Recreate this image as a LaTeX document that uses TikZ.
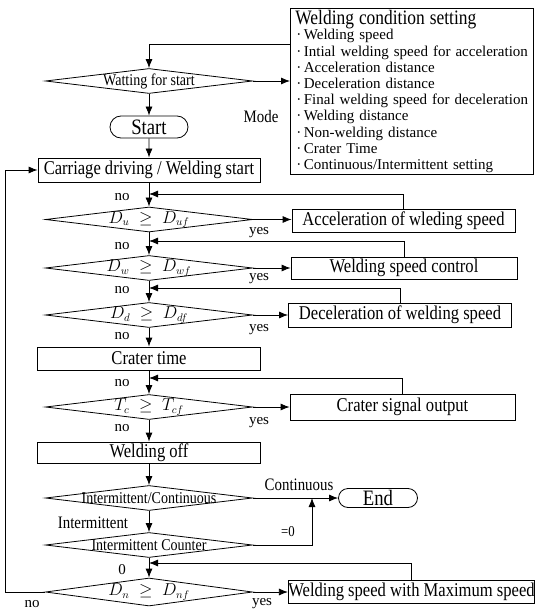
\documentclass[tikz,border=0pt]{standalone}
\usepackage{fontspec}
\setmainfont{Liberation Serif}
\newfontfamily\condfont{Liberation Serif}[FakeStretch=0.85]
\usetikzlibrary{shapes.geometric,shapes.misc,arrows.meta}

\tikzset{
  flow/.style={line width=0.8pt},
  arr/.style={flow, -{Latex[length=9pt,width=7pt]}},
  procbox/.style={draw, flow, minimum width=223pt, minimum height=23pt, inner sep=0pt,
    font=\condfont\fontsize{19.5}{20}\selectfont},
  decide/.style={draw, flow, diamond, minimum width=207pt, minimum height=25pt, inner sep=0pt},
  term/.style={draw, flow, rounded rectangle, minimum width=78pt, minimum height=22pt, inner sep=0pt,
    font=\condfont\fontsize{22}{22}\selectfont},
  dtext/.style={font=\condfont\fontsize{16.5}{17}\selectfont, inner sep=0pt},
  mtext/.style={font=\fontsize{16}{17}\selectfont, inner sep=0pt},
  yn/.style={font=\fontsize{15}{15}\selectfont, inner sep=0pt},
  side/.style={font=\condfont\fontsize{17.5}{18}\selectfont, inner sep=0pt},
}

\begin{document}
\begin{tikzpicture}[x=1pt, y=-1pt]
  \useasboundingbox (0,0) rectangle (535,612);

  % setting box
  \node[draw, flow, anchor=north west, text width=233pt, align=left, inner xsep=5pt, inner ysep=2pt,
        font=\fontsize{15}{16.2}\selectfont] (set) at (290,8)
    {\hyphenpenalty=10000\relax
     {\condfont\fontsize{20.5}{20}\selectfont Welding condition setting}\\[-1pt]
     \hspace*{1pt}·\,Welding speed\\
     \hspace*{1pt}·\,Intial welding speed for acceleration\\
     \hspace*{1pt}·\,Acceleration distance\\
     \hspace*{1pt}·\,Deceleration distance\\
     \hspace*{1pt}·\,Final welding speed for deceleration\\
     \hspace*{1pt}·\,Welding distance\\
     \hspace*{1pt}·\,Non-welding distance\\
     \hspace*{1pt}·\,Crater Time\\
     \hspace*{1pt}·\,Continuous/Intermittent setting};

  % main column
  \node[decide, label={[dtext]center:Watting for start}] (wait) at (149,81) {};
  \node[term] (start) at (149,127) {Start};
  \node[procbox, minimum width=222pt, minimum height=24pt] (drive) at (149,170) {Carriage driving / Welding start};
  \node[decide, label={[mtext]center:$D_u\;\geq\;D_{uf}$}] (du) at (149,219.5) {};
  \node[decide, label={[mtext]center:$D_w\;\geq\;D_{wf}$}] (dw) at (149,268) {};
  \node[decide, label={[mtext]center:$D_d\;\geq\;D_{df}$}] (dd) at (149,315) {};
  \node[procbox] (crater) at (149,358.5) {Crater time};
  \node[decide, label={[mtext]center:$T_c\;\geq\;T_{cf}$}] (tc) at (149,407) {};
  \node[procbox, minimum height=21pt] (off) at (149,452.5) {Welding off};
  \node[decide, label={[dtext]center:Intermittent/Continuous}] (ic) at (149,498) {};
  \node[decide, label={[dtext]center:Intermittent Counter}] (cnt) at (149,545) {};
  \node[decide, minimum height=28pt, label={[mtext]center:$D_n\;\geq\;D_{nf}$}] (dn) at (149,592) {};

  % right column
  \node[procbox] (accel) at (403.5,221) {Acceleration of wleding speed};
  \node[procbox, minimum width=226pt, minimum height=22pt] (wsc) at (404,268) {Welding speed control};
  \node[procbox, minimum height=24pt] (dec) at (400,315) {Deceleration of welding speed};
  \node[procbox, minimum width=225pt, minimum height=26pt] (csig) at (402.5,407) {Crater signal output};
  \node[term, minimum width=79pt, minimum height=19pt] (stop) at (378,498) {End};
  \node[procbox, minimum width=243pt] (maxs) at (411.5,591.5) {Welding speed with Maximum speed};

  \coordinate (tl) at (290,44);
  \coordinate (j1) at (149,194);
  \coordinate (j2) at (149,241);
  \coordinate (j3) at (149,288);
  \coordinate (j4) at (149,378);
  \coordinate (j5) at (149,563);
  \coordinate (cj) at (312,498);
  \coordinate (lp) at (5,592);

  \draw[arr] (tl) -| (wait.north);
  \draw[arr] (wait.east) -- (wait.east -| set.west);
  \draw[arr] (wait) -- (start);
  \draw[arr] (start) -- (drive);
  \draw[arr] (drive) -- (du);
  \draw[arr] (du) -- (dw);
  \draw[arr] (dw) -- (dd);
  \draw[arr] (dd) -- (crater);
  \draw[arr] (crater) -- (tc);
  \draw[arr] (tc) -- (off);
  \draw[arr] (off) -- (ic);
  \draw[arr] (ic) -- (cnt);
  \draw[arr] (cnt) -- (dn);

  \draw[arr] (du.east) -- (du.east -| accel.west);
  \draw[arr] (dw.east) -- (dw.east -| wsc.west);
  \draw[arr] (dd.east) -- (dd.east -| dec.west);
  \draw[arr] (tc.east) -- (tc.east -| csig.west);
  \draw[arr] (ic.east) -- (stop.west);
  \draw[arr] (cnt.east) -| (cj);
  \draw[arr] (dn.east) -- (dn.east -| maxs.west);
  \draw[arr] (dn.west) -- (lp) |- (drive.west);

  \draw[arr] (accel.north) |- (j1);
  \draw[arr] (wsc.north) |- (j2);
  \draw[arr] (dec.north) |- (j3);
  \draw[arr] (csig.north) |- (j4);
  \draw[arr] (maxs.north) |- (j5);

  % labels
  \node[side] (mode) at (261,117) {Mode};
  \node[yn] (no1) at (122,197) {no};
  \node[yn] (no2) at (122,246) {no};
  \node[yn] (no3) at (122,290) {no};
  \node[yn] (no4) at (122,336) {no};
  \node[yn] (no5) at (122,383) {no};
  \node[yn] (no6) at (122,428) {no};
  \node[yn] (no7) at (32,604) {no};
  \node[yn] (yes1) at (259,233) {yes};
  \node[yn] (yes2) at (259,279) {yes};
  \node[yn] (yes3) at (259,330) {yes};
  \node[yn] (yes4) at (259,423) {yes};
  \node[yn] (yes5) at (262,604) {yes};
  \node[side] (cont) at (299,485) {Continuous};
  \node[side] (inter) at (93,523) {Intermittent};
  \node[side, font=\condfont\fontsize{15}{15}\selectfont] (zero) at (288,532) {=0};
  \node[yn] (nil) at (122,570) {0};
\end{tikzpicture}
\end{document}
